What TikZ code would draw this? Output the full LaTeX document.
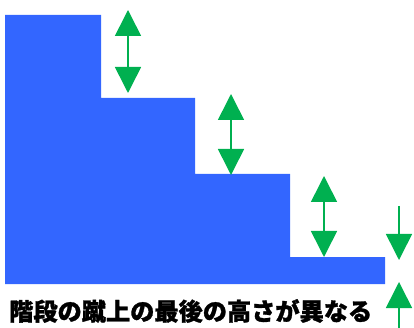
\documentclass[tikz,border=0pt]{standalone}
\usepackage{fontspec}
\newfontfamily\jp{Noto Sans CJK JP}[BoldFeatures={FakeBold=1.2}]
\usetikzlibrary{arrows.meta}
\definecolor{stairblue}{HTML}{3366FF}
\definecolor{arrgreen}{HTML}{00B050}
\tikzset{
  stair/.style={fill=stairblue, draw=none},
  riser/.style={draw=arrgreen, line width=1.6pt,
    {Triangle[width=26pt,length=26pt,fill=arrgreen]}-{Triangle[width=26pt,length=26pt,fill=arrgreen]}},
  onearrow/.style={draw=arrgreen, line width=1.6pt,
    -{Triangle[width=26pt,length=26pt,fill=arrgreen]}},
  caption/.style={font=\jp\bfseries\fontsize{24.2}{26}\selectfont, text=black, inner sep=0pt}
}
\begin{document}
\begin{tikzpicture}[x=1pt,y=-1pt]
\useasboundingbox (0,0) rectangle (414,328);
% staircase
\fill[stair] (5,15) -- (101,15) -- (101,98) -- (195,98) -- (195,174) -- (290,174)
  -- (290,257) -- (385,257) -- (385,284) -- (5,284) -- cycle;
% riser arrows
\coordinate (a1t) at (128,10);  \coordinate (a1b) at (128,93);
\coordinate (a2t) at (231,94);  \coordinate (a2b) at (231,175);
\coordinate (a3t) at (324,176); \coordinate (a3b) at (324,257);
\draw[riser] (a1t) -- (a1b);
\draw[riser] (a2t) -- (a2b);
\draw[riser] (a3t) -- (a3b);
% last riser
\coordinate (d1) at (399,206); \coordinate (d2) at (399,260);
\coordinate (u1) at (399,328); \coordinate (u2) at (399,282);
\draw[onearrow] (d1) -- (d2);
\draw[onearrow] (u1) -- (u2);
% caption
\node[caption, anchor=west] (cap) at (9,311) {階段の蹴上の最後の高さが異なる};
\end{tikzpicture}
\end{document}
